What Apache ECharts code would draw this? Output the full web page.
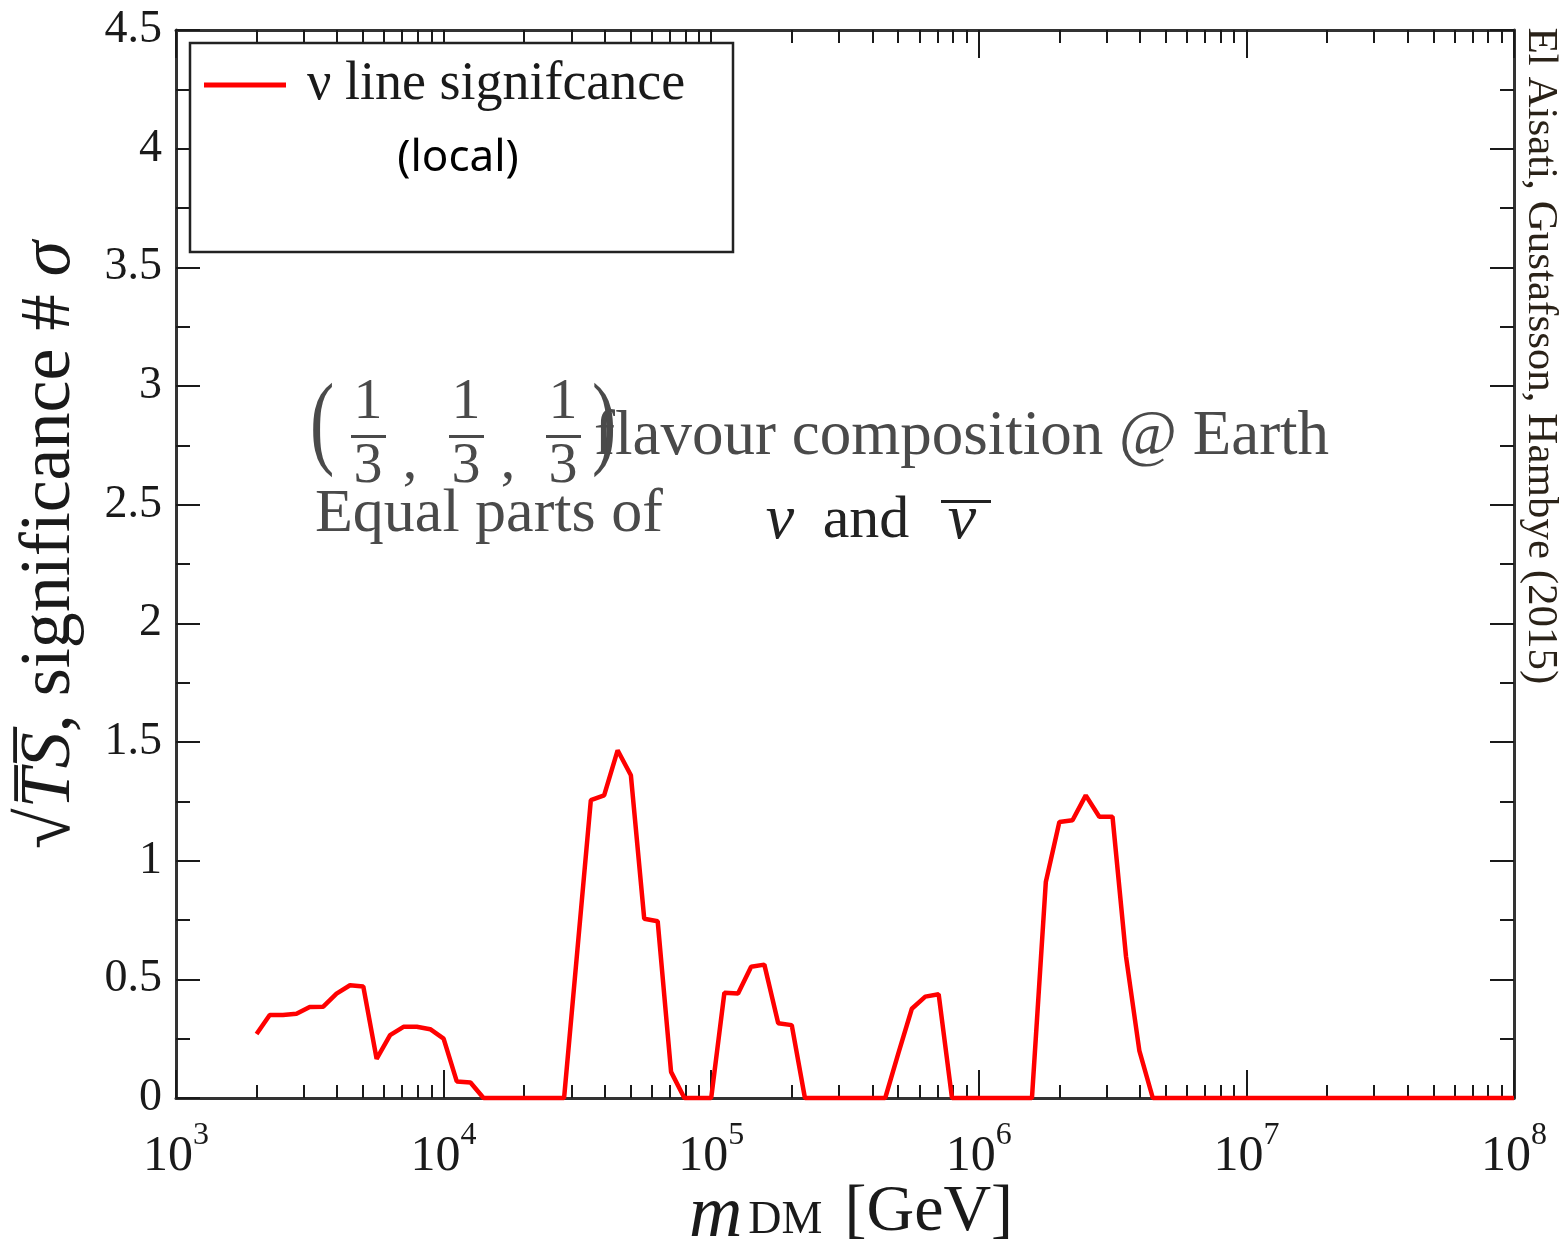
<!DOCTYPE html>
<html>
<head>
<meta charset="utf-8">
<script src="https://cdn.jsdelivr.net/npm/echarts@6/dist/echarts.min.js"></script>
<style>
  html, body { margin: 0; padding: 0; background: #fff; }
  #chart { width: 1561px; height: 1245px; }
</style>
</head>
<body>
<div id="chart"></div>
<script>
// dark matter mass (GeV) and local significance
var massGeV = [
  2000, 2240, 2510, 2820, 3160, 3550, 3980, 4470, 5010, 5620, 6310, 7080, 7940, 8910, 10000, 11200, 12600, 14100,
  28200, 31600, 35500, 39800, 44700, 50100, 56200, 63100, 70800, 79400,
  100000, 112000, 126000, 141000, 158000, 178000, 200000, 224000,
  447000, 501000, 562000, 631000, 708000, 794000,
  1580000, 1780000, 2000000, 2240000, 2510000, 2820000, 3160000, 3550000, 3980000, 4470000,
  100000000
];
var sigma = [
  0.27, 0.35, 0.35, 0.355, 0.383, 0.385, 0.44, 0.475, 0.47, 0.165, 0.265, 0.30, 0.30, 0.29, 0.25, 0.07, 0.065, 0,
  0, 0.62, 1.255, 1.275, 1.465, 1.36, 0.755, 0.745, 0.11, 0,
  0, 0.443, 0.44, 0.553, 0.562, 0.315, 0.307, 0,
  0, 0.19, 0.376, 0.427, 0.437, 0,
  0, 0.91, 1.163, 1.17, 1.275, 1.185, 1.185, 0.595, 0.20, 0,
  0
];
var seriesName = 'ν line signifcance';
var decadeTicks = [1e3, 1e4, 1e5, 1e6, 1e7, 1e8];
var minorTicks = [];
for (var d = 1e3; d < 1e8; d *= 10) {
  for (var k = 2; k <= 9; k++) minorTicks.push(k * d);
}

var serif = 'Liberation Serif';
var ink = '#1a1a1a';
var frame = '#333';
var grey = '#4a4a4a';

var chart = echarts.init(document.getElementById('chart'));

var gridRect = { left: 176, right: 47, top: 30, bottom: 147 };

function xAx(gridIndex, pos, ticks, len, showLine, labels) {
  return {
    type: 'log', logBase: 10, min: 1e3, max: 1e8, gridIndex: gridIndex, position: pos,
    axisLine: { show: showLine, onZero: false, lineStyle: { color: frame, width: 3 } },
    axisTick: { show: true, inside: true, length: len, customValues: ticks, lineStyle: { color: ink, width: 2 } },
    axisLabel: labels ? {
      show: true, customValues: decadeTicks, margin: 22,
      formatter: function (v) { return '{b|10}{e|' + Math.round(Math.log10(v)) + '}'; },
      rich: {
        b: { fontFamily: serif, fontSize: 50, color: ink, lineHeight: 62, verticalAlign: 'bottom' },
        e: { fontFamily: serif, fontSize: 32, color: ink, lineHeight: 32, verticalAlign: 'top' }
      }
    } : { show: false },
    splitLine: { show: false }
  };
}

function yAx(gridIndex, pos, showLabels, show) {
  return {
    type: 'value', min: 0, max: 4.5, interval: 0.5, gridIndex: gridIndex, position: pos, show: show,
    axisLine: { show: true, onZero: false, lineStyle: { color: frame, width: 3 } },
    axisTick: { show: true, inside: true, length: 24, lineStyle: { color: ink, width: 2 } },
    minorTick: { show: true, splitNumber: 2, length: 14, lineStyle: { color: ink, width: 2 } },
    axisLabel: { show: showLabels, margin: 14, fontFamily: serif, fontSize: 46, color: ink },
    splitLine: { show: false }
  };
}

function txt(x, y, s, size, extra) {
  return Object.assign({
    type: 'text', z: 6, x: x, y: y,
    style: { text: s, fontFamily: serif, fontSize: size, fill: grey, align: 'center', verticalAlign: 'middle' }
  }, extra || {});
}

var option = {
  backgroundColor: '#fff',
  animation: false,
  grid: [
    Object.assign({}, gridRect),
    Object.assign({}, gridRect)
  ],
  xAxis: [
    xAx(0, 'bottom', decadeTicks, 28, true, true),
    xAx(0, 'top', decadeTicks, 28, true, false),
    xAx(1, 'bottom', minorTicks, 13, false, false),
    xAx(1, 'top', minorTicks, 13, false, false)
  ],
  yAxis: [
    yAx(0, 'left', true, true),
    yAx(0, 'right', false, true),
    yAx(1, 'left', false, false)
  ],
  legend: {
    left: 199, top: 53, itemWidth: 82, itemHeight: 5, icon: 'rect',
    data: [seriesName],
    textStyle: { fontFamily: serif, fontSize: 54, color: ink, padding: [0, 0, 0, 16] },
    z: 10
  },
  graphic: [
    {
      type: 'rect', z: 5, shape: { x: 190, y: 43, width: 543, height: 209 },
      style: { fill: '#fff', stroke: '#222', lineWidth: 2.5 }
    },
    {
      type: 'text', z: 11, x: 458, y: 158,
      style: { text: '(local)', fontFamily: 'Noto Sans', fontSize: 44, fill: '#000', align: 'center', verticalAlign: 'middle' }
    },
    // y axis title
    {
      type: 'text', z: 6, x: 50, y: 545, rotation: Math.PI / 2,
      style: {
        text: '{r|√}{i|T\u0305S\u0305}{n|, significance # }{i|σ}', align: 'center', verticalAlign: 'middle',
        rich: {
          r: { fontFamily: serif, fontSize: 74, fill: ink },
          i: { fontFamily: serif, fontSize: 72, fontStyle: 'italic', fill: ink },
          n: { fontFamily: serif, fontSize: 72, fill: ink }
        }
      }
    },
    // flavour composition annotation
    txt(322, 428, '(', 104, { scaleX: 0.7 }),
    txt(368, 403, '1', 58),
    { type: 'rect', z: 6, shape: { x: 351, y: 435, width: 35, height: 3 }, style: { fill: grey } },
    txt(368, 467, '3', 58),
    txt(410, 463, ',', 58),
    txt(466, 403, '1', 58),
    { type: 'rect', z: 6, shape: { x: 449, y: 435, width: 35, height: 3 }, style: { fill: grey } },
    txt(466, 467, '3', 58),
    txt(508, 463, ',', 58),
    txt(563, 403, '1', 58),
    { type: 'rect', z: 6, shape: { x: 546, y: 435, width: 35, height: 3 }, style: { fill: grey } },
    txt(563, 467, '3', 58),
    txt(604, 428, ')', 104, { scaleX: 0.7 }),
    {
      type: 'text', z: 6, x: 594, y: 437,
      style: { text: 'flavour composition @ Earth', fontFamily: serif, fontSize: 63, fill: grey, verticalAlign: 'middle' }
    },
    {
      type: 'text', z: 6, x: 315, y: 515,
      style: { text: 'Equal parts of', fontFamily: serif, fontSize: 62, fill: grey, verticalAlign: 'middle' }
    },
    txt(780, 521, 'ν', 64, { style: { text: 'ν', fontFamily: serif, fontSize: 64, fontStyle: 'italic', fill: '#222', align: 'center', verticalAlign: 'middle' } }),
    txt(866, 521, 'and', 60, { style: { text: 'and', fontFamily: serif, fontSize: 60, fill: '#222', align: 'center', verticalAlign: 'middle' } }),
    txt(962, 521, 'ν', 64, { style: { text: 'ν', fontFamily: serif, fontSize: 64, fontStyle: 'italic', fill: '#222', align: 'center', verticalAlign: 'middle' } }),
    { type: 'rect', z: 6, shape: { x: 941, y: 500, width: 50, height: 3 }, style: { fill: '#222' } },
    // x axis title
    {
      type: 'text', z: 6, x: 851, y: 1212,
      style: {
        text: '{m|m}{s|DM}{g|[GeV]}', align: 'center', verticalAlign: 'middle',
        rich: {
          m: { fontFamily: serif, fontSize: 74, fontStyle: 'italic', fill: ink, verticalAlign: 'top', lineHeight: 64 },
          s: { fontFamily: serif, fontSize: 46, fill: ink, verticalAlign: 'bottom', lineHeight: 64, padding: [0, 22, 0, 6] },
          g: { fontFamily: serif, fontSize: 66, fill: ink, verticalAlign: 'top', lineHeight: 64 }
        }
      }
    },
    // credit on the right
    {
      type: 'text', z: 6, x: 1540, y: 356, rotation: -Math.PI / 2,
      style: { text: 'El Aisati, Gustafsson, Hambye (2015)', fontFamily: serif, fontSize: 43, fill: '#2a2218', align: 'center', verticalAlign: 'middle' }
    }
  ],
  series: [
    {
      name: seriesName, type: 'line', xAxisIndex: 0, yAxisIndex: 0,
      data: massGeV.map(function (m, i) { return [m, sigma[i]]; }),
      symbol: 'none', clip: false, z: 4,
      lineStyle: { color: '#ff0000', width: 4.5 },
      itemStyle: { color: '#ff0000' }
    }
  ]
};

chart.setOption(option);
</script>
</body>
</html>
